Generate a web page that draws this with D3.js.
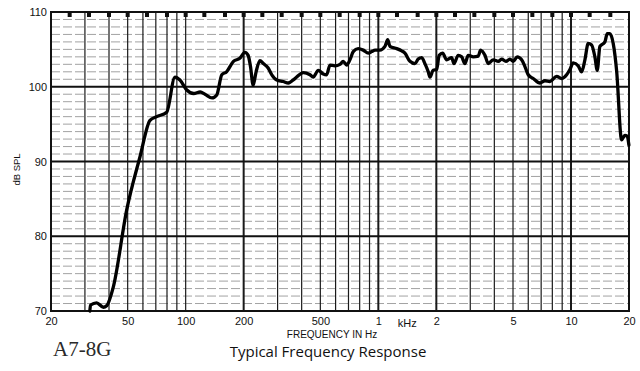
<!DOCTYPE html>
<html>
<head>
<meta charset="utf-8">
<script src="https://cdn.jsdelivr.net/npm/d3@7"></script>
<style>
  html, body { margin: 0; padding: 0; background: #fff; }
  svg { display: block; }
</style>
</head>
<body>
<div id="chart"></div>
<script>
// response curve (Hz, dB SPL)
const freqs = [31.8, 32.1, 34.5, 37.4, 38.9, 42.1, 49.4, 57.9, 65.3, 70.7, 79.7, 88, 93.4, 101, 110, 119, 126, 137, 145, 154, 163, 177, 191, 203, 211, 217, 224, 232, 243, 253, 268, 280, 297, 321, 341, 369, 408, 442, 459, 488, 518, 539, 561, 595, 632, 657, 685, 712, 741, 786, 835, 887, 923, 961, 1019, 1082, 1118, 1149, 1245, 1321, 1374, 1459, 1548, 1610, 1678, 1745, 1816, 1853, 1926, 2007, 2070, 2156, 2262, 2402, 2468, 2598, 2706, 2814, 2927, 3108, 3300, 3396, 3576, 3719, 3949, 4193, 4366, 4596, 4820, 5012, 5258, 5544, 5766, 5998, 6368, 6898, 7322, 7772, 8422, 8940, 9492, 9872, 10268, 10902, 11352, 11808, 12284, 12792, 13306, 13682, 14126, 14998, 15416, 15916, 16558, 17242, 18310, 19042, 19572, 19972];
const spl = [70.0, 70.8, 71.1, 70.5, 70.7, 73.2, 83.5, 90.6, 95.5, 96.0, 96.6, 101.3, 100.9, 99.6, 99.1, 99.3, 99.0, 98.5, 98.9, 101.6, 102.0, 103.4, 103.8, 104.6, 104.2, 102.7, 100.2, 102.0, 103.5, 103.1, 102.5, 101.6, 100.9, 100.7, 100.5, 101.1, 101.9, 101.6, 101.3, 102.2, 101.7, 101.6, 102.9, 102.8, 103.0, 103.4, 102.9, 103.6, 104.7, 105.1, 104.9, 104.5, 104.7, 104.9, 104.9, 105.4, 106.3, 105.4, 105.1, 104.8, 104.5, 103.4, 103.1, 103.7, 103.9, 103.1, 102.0, 101.3, 102.2, 102.3, 104.2, 104.5, 103.6, 103.9, 103.1, 104.2, 104.0, 103.1, 104.2, 104.0, 104.1, 104.9, 104.2, 103.1, 103.6, 103.4, 103.7, 103.4, 103.7, 103.4, 104.0, 103.6, 102.7, 101.6, 101.1, 100.5, 100.8, 100.7, 101.4, 101.1, 101.6, 102.3, 103.2, 102.8, 102.0, 103.6, 105.8, 105.6, 104.0, 102.2, 105.4, 106.0, 107.1, 107.1, 105.8, 102.2, 92.9, 93.5, 93.4, 92.2];

const yTicks = [70, 80, 90, 100, 110];
const xTicks = [20, 50, 100, 200, 500, 1000, 2000, 5000, 10000, 20000];
const xTickLabels = ['20', '50', '100', '200', '500', '1', '2', '5', '10', '20'];
// 1/3-octave band centres marked along the top edge
const bandCentres = [25, 31.5, 40, 50, 63, 80, 100, 125, 160, 200, 250, 315, 400, 500, 630, 800, 1000, 1250, 1600, 2000, 2500, 3150, 4000, 5000, 6300, 8000, 10000, 12500, 16000];

const width = 640, height = 371;
const plotL = 51, plotR = 629, plotT = 12, plotB = 311;

const svg = d3.select('#chart').append('svg')
    .attr('width', width)
    .attr('height', height);

const x = d3.scaleLog().domain([20, 20000]).range([plotL, plotR]);
const y = d3.scaleLinear().domain([70, 110]).range([plotB, plotT]);

const grid = svg.append('g');

// minor horizontal lines every 1 dB
grid.selectAll('.hminor')
    .data(d3.range(71, 110).filter(d => d % 10 !== 0))
    .join('line')
    .attr('x1', plotL).attr('x2', plotR)
    .attr('y1', d => y(d)).attr('y2', d => y(d))
    .attr('stroke', '#8a8a8a')
    .attr('stroke-width', 0.8)
    .attr('stroke-dasharray', '9,3');

// vertical lines at 1..9 x each decade
const vLines = [];
[10, 100, 1000, 10000].forEach(dec => {
    for (let k = 1; k <= 9; k++) {
        const f = dec * k;
        if (f > 20 && f < 20000) vLines.push(f);
    }
});
const boldV = [200, 1000, 2000, 10000];

grid.selectAll('.vline')
    .data(vLines)
    .join('line')
    .attr('x1', d => x(d)).attr('x2', d => x(d))
    .attr('y1', plotT).attr('y2', plotB)
    .attr('stroke', '#1a1a1a')
    .attr('stroke-width', d => boldV.includes(d) ? 2 : 1.2);

// major horizontal lines
grid.selectAll('.hmajor')
    .data([80, 90, 100])
    .join('line')
    .attr('x1', plotL).attr('x2', plotR)
    .attr('y1', d => y(d)).attr('y2', d => y(d))
    .attr('stroke', '#111')
    .attr('stroke-width', 1.8);

// frame
svg.append('rect')
    .attr('x', plotL).attr('y', plotT)
    .attr('width', plotR - plotL).attr('height', plotB - plotT)
    .attr('fill', 'none')
    .attr('stroke', '#111')
    .attr('stroke-width', 2);

// band markers
svg.selectAll('.band')
    .data(bandCentres)
    .join('rect')
    .attr('x', d => x(d) - 2)
    .attr('y', plotT)
    .attr('width', 4)
    .attr('height', 5)
    .attr('fill', '#111');

// response curve
const pts = freqs.map((f, i) => [f, spl[i]]);
const line = d3.line()
    .x(d => x(d[0]))
    .y(d => y(d[1]))
    .curve(d3.curveMonotoneX);

svg.append('path')
    .datum(pts)
    .attr('d', line)
    .attr('fill', 'none')
    .attr('stroke', '#000')
    .attr('stroke-width', 3.3)
    .attr('stroke-linejoin', 'round')
    .attr('stroke-linecap', 'round');

// axes (labels only)
const yAxis = svg.append('g')
    .attr('transform', `translate(${plotL - 4},0)`)
    .call(d3.axisLeft(y).tickValues(yTicks).tickSize(0).tickPadding(0));
yAxis.select('.domain').remove();
yAxis.selectAll('text')
    .attr('font-family', '"Liberation Sans", Arial, sans-serif')
    .attr('font-size', 11)
    .attr('fill', '#111');

const xAxis = svg.append('g')
    .attr('transform', `translate(0,${plotB + 6})`)
    .call(d3.axisBottom(x).tickValues(xTicks).tickSize(0).tickPadding(0)
        .tickFormat((d, i) => xTickLabels[i]));
xAxis.select('.domain').remove();
xAxis.selectAll('text')
    .attr('font-family', '"Liberation Sans", Arial, sans-serif')
    .attr('font-size', 11)
    .attr('fill', '#111');

svg.append('text')
    .attr('x', x(Math.sqrt(1000 * 2000)))
    .attr('y', plotB + 16)
    .attr('text-anchor', 'middle')
    .attr('font-family', '"Liberation Sans", Arial, sans-serif')
    .attr('font-size', 11)
    .attr('fill', '#111')
    .text('kHz');

svg.append('text')
    .attr('x', 332)
    .attr('y', 338)
    .attr('text-anchor', 'middle')
    .attr('font-family', '"Liberation Sans", Arial, sans-serif')
    .attr('font-size', 10)
    .attr('fill', '#111')
    .text('FREQUENCY IN Hz');

svg.append('text')
    .attr('transform', `translate(20,${(plotT + plotB) / 2 + 8}) rotate(-90)`)
    .attr('text-anchor', 'middle')
    .attr('font-family', '"Liberation Sans", Arial, sans-serif')
    .attr('font-size', 9.5)
    .attr('fill', '#111')
    .text('dB SPL');

svg.append('text')
    .attr('x', 53)
    .attr('y', 356)
    .attr('font-family', '"Liberation Serif", "DejaVu Serif", serif')
    .attr('font-size', 21)
    .attr('fill', '#2a2a2a')
    .text('A7-8G');

svg.append('text')
    .attr('x', 328)
    .attr('y', 357)
    .attr('text-anchor', 'middle')
    .attr('font-family', '"Open Sans", sans-serif')
    .attr('font-size', 15)
    .attr('fill', '#111')
    .text('Typical Frequency Response');
</script>
</body>
</html>
